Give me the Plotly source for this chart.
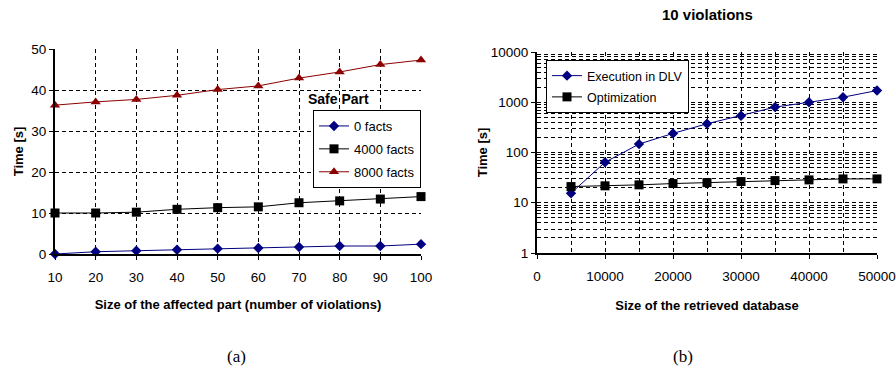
import plotly.graph_objects as go

# ---- data (a) ----
violations = [10, 20, 30, 40, 50, 60, 70, 80, 90, 100]
facts0 = [0.0, 0.55, 0.8, 1.05, 1.3, 1.45, 1.7, 1.95, 1.95, 2.4]
facts4000 = [10.0, 10.0, 10.2, 10.9, 11.3, 11.5, 12.5, 12.95, 13.4, 14.0]
facts8000 = [36.3, 37.1, 37.7, 38.7, 40.1, 41.0, 42.9, 44.4, 46.2, 47.3]

# ---- data (b) ----
db_size = [5000, 10000, 15000, 20000, 25000, 30000, 35000, 40000, 45000, 50000]
exec_dlv = [15.5, 64, 147, 240, 373, 538, 800, 1000, 1260, 1710]
optimization = [21, 21.7, 22.7, 24.1, 25.2, 26.4, 27.6, 28.5, 29.8, 29.8]

FONT = "Liberation Sans, Arial, sans-serif"
NAVY = "#000080"
DRED = "#8B0000"
DASH = "4px,3px"

fig = go.Figure()

def add(x, y, name, color, symbol, size, xa, ya, legend):
    fig.add_trace(go.Scatter(
        x=x, y=y, name=name, mode="lines+markers",
        line=dict(color=color, width=1),
        marker=dict(color=color, symbol=symbol, size=size),
        xaxis=xa, yaxis=ya, legend=legend, legendgroup=name,
        cliponaxis=False, hoverinfo="skip"))

add(violations, facts0, "0 facts", NAVY, "diamond", 8, "x", "y", "legend")
add(violations, facts4000, "4000 facts", "black", "square", 9, "x", "y", "legend")
add(violations, facts8000, "8000 facts", DRED, "triangle-up", 9, "x", "y", "legend")
add(db_size, exec_dlv, "Execution in DLV", NAVY, "diamond", 8, "x2", "y2", "legend2")
add(db_size, optimization, "Optimization", "black", "square", 9, "x2", "y2", "legend2")

W, H = 896, 376
def px(x): return x / W
def py(y): return 1 - y / H

axis_common = dict(
    showline=True, linecolor="black", linewidth=2,
    ticks="outside", ticklen=4, tickcolor="black", tickwidth=1,
    showgrid=True, gridcolor="black", gridwidth=1, griddash=DASH,
    zeroline=False, automargin=False,
    tickfont=dict(family=FONT, size=13.5, color="black"),
)
title_font = dict(family=FONT, size=13, color="black", weight="bold")

fig.update_layout(
    width=W, height=H, margin=dict(l=0, r=0, t=0, b=0),
    paper_bgcolor="white", plot_bgcolor="white",
    font=dict(family=FONT, color="black"),
    xaxis=dict(domain=[px(55), px(421)], range=[10, 100], tickvals=violations,
               anchor="y", ticklabelstandoff=6,
               title=dict(text="Size of the affected part (number of violations)",
                          font=title_font, standoff=16),
               **axis_common),
    yaxis=dict(domain=[py(254), py(49)], range=[0, 50], dtick=10, anchor="x",
               title=dict(text="Time [s]", font=title_font, standoff=5),
               **axis_common),
    xaxis2=dict(domain=[px(537), px(877)], range=[0, 50000], dtick=10000,
                anchor="y2", tickformat="d", ticklabelstandoff=6,
                minor=dict(dtick=5000, showgrid=True, gridcolor="black",
                           griddash=DASH, gridwidth=1),
                title=dict(text="Size of the retrieved database",
                           font=title_font, standoff=18),
                **axis_common),
    yaxis2=dict(domain=[py(253), py(52)], type="log", range=[0, 4], dtick=1,
                anchor="x2", tickformat="d",
                minor=dict(dtick="D1", showgrid=True, gridcolor="black",
                           griddash=DASH, gridwidth=1),
                title=dict(text="Time [s]", font=title_font, standoff=0),
                **axis_common),
    legend=dict(x=px(313), y=py(110), xanchor="left", yanchor="top",
                bgcolor="white", bordercolor="black", borderwidth=1,
                font=dict(family=FONT, size=13, color="black"),
                itemwidth=30, tracegroupgap=3),
    legend2=dict(x=px(546), y=py(60), xanchor="left", yanchor="top",
                 bgcolor="white", bordercolor="black", borderwidth=1,
                 font=dict(family=FONT, size=12.5, color="black"),
                 itemwidth=30, tracegroupgap=2),
    showlegend=True,
    annotations=[
        dict(text="<b>Safe Part</b>", x=px(306), y=py(99), xref="paper", yref="paper",
             xanchor="left", yanchor="middle", showarrow=False,
             font=dict(family=FONT, size=14, color="black")),
        dict(text="<b>10 violations</b>", x=px(707), y=py(14), xref="paper", yref="paper",
             xanchor="center", yanchor="middle", showarrow=False,
             font=dict(family=FONT, size=15, color="black")),
        dict(text="(a)", x=px(237), y=py(356), xref="paper", yref="paper",
             xanchor="center", yanchor="middle", showarrow=False,
             font=dict(family="Liberation Serif, Times New Roman, serif", size=17, color="black")),
        dict(text="(b)", x=px(683), y=py(356), xref="paper", yref="paper",
             xanchor="center", yanchor="middle", showarrow=False,
             font=dict(family="Liberation Serif, Times New Roman, serif", size=17, color="black")),
    ],
)

fig.write_html("out.html", config={"displayModeBar": False},
               post_script="document.body.style.margin='0';document.body.style.padding='0';")
